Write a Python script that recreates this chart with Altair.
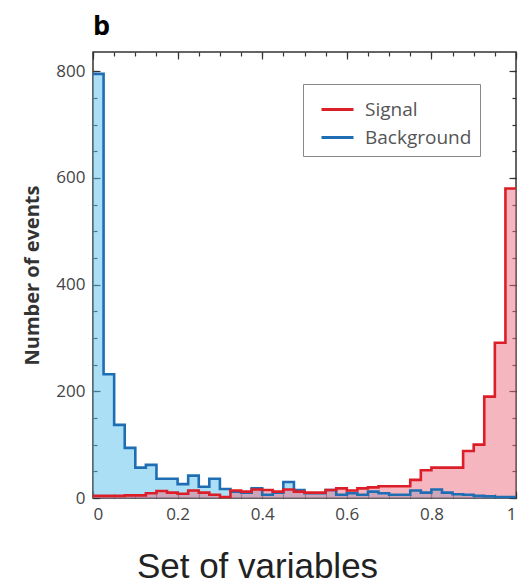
import altair as alt
import pandas as pd

# ---- data (40 bins of width 0.025 on [0, 1]) ----
bin_width = 0.025
background = [795, 232, 137, 94, 57, 62, 36, 36, 26, 42,
              21, 36, 17, 12, 10, 18, 6, 10, 30, 15,
              9, 9, 15, 6, 9, 6, 12, 9, 6, 6,
              14, 10, 16, 10, 7, 6, 4, 3, 2, 2]
signal = [4, 4, 4, 5, 5, 9, 13, 10, 8, 14,
          10, 6, 2, 14, 12, 16, 15, 12, 16, 12,
          10, 10, 15, 18, 14, 18, 20, 22, 22, 22,
          34, 52, 57, 57, 57, 88, 100, 190, 291, 580]
series_names = ["Signal", "Background"]
line_colors = ["#dc1e28", "#1f6eb4"]
fill_colors = ["#ee6e80", "#55c0ee"]

x_major = [0, 0.2, 0.4, 0.6, 0.8, 1]
x_minor = [round(i * 0.05, 2) for i in range(21)]
y_major = [0, 200, 400, 600, 800]
y_minor = list(range(0, 801, 50))

rows = []
for name, vals in (("Background", background), ("Signal", signal)):
    for i, v in enumerate(vals + [vals[-1]]):
        rows.append({"x": i * bin_width, "count": v, "series": name,
                     "fill_series": name})
df = pd.DataFrame(rows)

xs = alt.Scale(domain=[0, 1], nice=False, zero=False)
ys = alt.Scale(domain=[0, 836], nice=False)

lab_font = "Open Sans"
tick_col = "#333333"


def x_axis(orient, major):
    kw = dict(orient=orient, domain=False, grid=False, tickColor=tick_col,
              tickWidth=1.2)
    if major:
        kw.update(values=x_major, tickSize=7, offset=-7)
    else:
        kw.update(values=x_minor, tickSize=4, offset=-4)
    if orient == "bottom" and major:
        kw.update(labels=True, labelFont=lab_font, labelFontSize=17,
                  labelColor="#444444", labelPadding=8, format="~g",
                  title="Set of variables", titleFont="Liberation Sans",
                  titleFontSize=35, titleFontWeight="normal",
                  titleColor="#222222", titleX=164, titleY=86,
                  titleAlign="center", titleBaseline="alphabetic")
    else:
        kw.update(labels=False, title=None)
    return alt.Axis(**kw)


def y_axis(orient, major):
    kw = dict(orient=orient, domain=False, grid=False, tickColor=tick_col,
              tickWidth=1.2)
    if major:
        kw.update(values=y_major, tickSize=7, offset=-7)
    else:
        kw.update(values=y_minor, tickSize=4, offset=-4)
    if orient == "left" and major:
        kw.update(labels=True, labelFont=lab_font, labelFontSize=17,
                  labelColor="#444444", labelPadding=8,
                  title="Number of events", titleFont=lab_font,
                  titleFontSize=20, titleFontWeight="bold",
                  titleColor="#333333", titlePadding=13)
    else:
        kw.update(labels=False, title=None)
    return alt.Axis(**kw)


base = alt.Chart(df)

area = base.mark_area(interpolate="step-after", fillOpacity=0.5).encode(
    x=alt.X("x:Q", scale=xs, axis=x_axis("bottom", True)),
    y=alt.Y("count:Q", scale=ys, axis=y_axis("left", True), stack=None),
    fill=alt.Fill("fill_series:N",
                  scale=alt.Scale(domain=series_names, range=fill_colors),
                  legend=None),
)

area2 = base.mark_area(interpolate="step-after", opacity=0).encode(
    x=alt.X("x:Q", scale=xs, axis=x_axis("bottom", False)),
    y=alt.Y("count:Q", scale=ys, axis=y_axis("left", False), stack=None),
    detail="series:N",
)

lines = base.mark_line(interpolate="step-after", strokeWidth=2.6).encode(
    x=alt.X("x:Q", scale=xs, axis=x_axis("top", True)),
    y=alt.Y("count:Q", scale=ys, axis=y_axis("right", True)),
    color=alt.Color("series:N",
                    scale=alt.Scale(domain=series_names, range=line_colors),
                    legend=alt.Legend(orient="none", legendX=210, legendY=32,
                                      title=None, symbolType="stroke",
                                      symbolSize=1024, symbolStrokeWidth=3,
                                      symbolOffset=9,
                                      labelFont=lab_font, labelFontSize=19,
                                      labelColor="#555555", labelOffset=10,
                                      rowPadding=-4, padding=8,
                                      strokeColor="#888888", fillColor="white")),
)

dummy = base.mark_line(interpolate="step-after", opacity=0).encode(
    x=alt.X("x:Q", scale=xs, axis=x_axis("top", False)),
    y=alt.Y("count:Q", scale=ys, axis=y_axis("right", False)),
    detail="series:N",
)

chart = alt.layer(area, area2, lines, dummy).resolve_axis(
    x="independent", y="independent"
).resolve_legend(
    color="independent", fill="independent"
).properties(
    width=423, height=446,
    title=alt.TitleParams("b", anchor="start", frame="group", fontSize=27,
                          font=lab_font, fontWeight="bold", color="black",
                          offset=17, dy=28, baseline="alphabetic"),
    autosize=alt.AutoSizeParams(type="none"),
    padding={"left": 93, "top": 52, "right": 9, "bottom": 85},
).configure(
    background="white",
    view=alt.ViewConfig(stroke="#333333", strokeWidth=1.5),
)

chart.save("out.html", embed_options={"renderer": "svg", "actions": False})
